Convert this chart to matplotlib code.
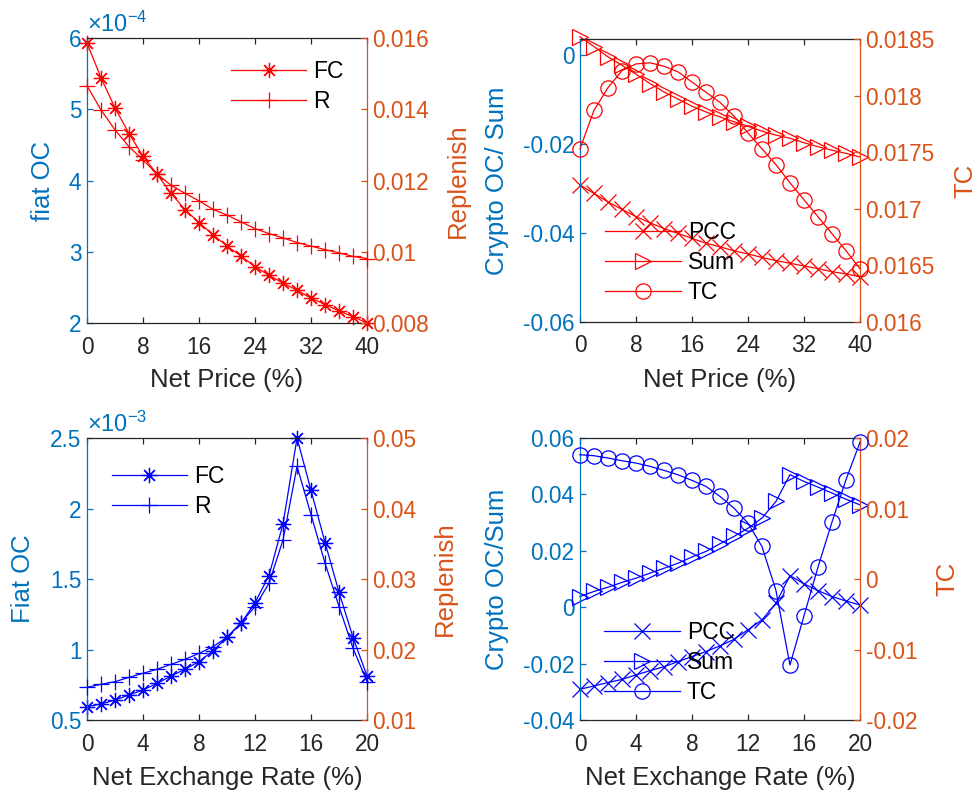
import numpy as np
import matplotlib
matplotlib.use("Agg")
import matplotlib.pyplot as plt
from matplotlib.ticker import FixedLocator, FuncFormatter

plt.rcParams['font.family'] = ['Liberation Sans', 'DejaVu Sans']
plt.rcParams['mathtext.fontset'] = 'custom'
plt.rcParams['mathtext.rm'] = 'Liberation Sans'
plt.rcParams['mathtext.it'] = 'Liberation Sans'
plt.rcParams['axes.unicode_minus'] = False

# ---- data: net price sweep (0..40 %) ----
price = np.arange(0, 41, 2)
fc_price = np.array([5.93, 5.44, 5.02, 4.66, 4.34, 4.09, 3.82, 3.59, 3.41, 3.24, 3.08,
                     2.94, 2.79, 2.67, 2.56, 2.46, 2.35, 2.26, 2.17, 2.09, 2.00]) * 1e-4
r_price = np.array([0.01466, 0.01398, 0.01342, 0.01295, 0.01258, 0.01218, 0.01187,
                    0.01164, 0.01143, 0.01119, 0.01103, 0.01084, 0.01065, 0.01051,
                    0.01039, 0.01026, 0.01016, 0.01006, 0.00997, 0.00987, 0.00981])
pcc_price = np.array([-0.0292, -0.0311, -0.0330, -0.0347, -0.0363, -0.0377, -0.0390,
                      -0.0401, -0.0412, -0.0423, -0.0431, -0.0440, -0.0447, -0.0455,
                      -0.0462, -0.0468, -0.0474, -0.0480, -0.0487, -0.0492, -0.0498])
sum_price = np.array([0.0041, 0.0019, -0.0004, -0.0023, -0.0043, -0.0064, -0.0083,
                      -0.0099, -0.0115, -0.0128, -0.0139, -0.0150, -0.0160, -0.0171,
                      -0.0180, -0.0187, -0.0197, -0.0206, -0.0214, -0.0221, -0.0229])
tc_price = np.array([0.01753, 0.01787, 0.01807, 0.01822, 0.01828, 0.01829, 0.01826,
                     0.01821, 0.01812, 0.01803, 0.01794, 0.01782, 0.01767, 0.01753,
                     0.01739, 0.01723, 0.01708, 0.01693, 0.01678, 0.01663, 0.01647])

# ---- data: net exchange rate sweep (0..20 %) ----
rate = np.arange(0, 21, 1)
fc_rate = np.array([0.595, 0.614, 0.642, 0.678, 0.713, 0.760, 0.812, 0.860, 0.914, 0.992,
                    1.087, 1.186, 1.333, 1.525, 1.892, 2.500, 2.128, 1.759, 1.406, 1.085,
                    0.812]) * 1e-3
r_rate = np.array([0.01464, 0.01507, 0.01544, 0.01606, 0.01663, 0.01720, 0.01790,
                   0.01860, 0.01947, 0.02041, 0.02174, 0.02382, 0.02609, 0.02941,
                   0.03556, 0.04598, 0.03912, 0.03225, 0.02609, 0.02018, 0.01544])
pcc_rate = np.array([-0.0291, -0.0279, -0.0267, -0.0256, -0.0240, -0.0225, -0.0211,
                     -0.0193, -0.0175, -0.0157, -0.0137, -0.0114, -0.0080, -0.0045,
                     0.0014, 0.0112, 0.0083, 0.0059, 0.0038, 0.0022, 0.0008])
sum_rate = np.array([0.0038, 0.0056, 0.0071, 0.0088, 0.0103, 0.0121, 0.0138, 0.0156,
                     0.0178, 0.0198, 0.0225, 0.0251, 0.0280, 0.0316, 0.0375, 0.0470,
                     0.0446, 0.0426, 0.0405, 0.0383, 0.0363])
tc_rate = np.array([0.01763, 0.01749, 0.01716, 0.01678, 0.01645, 0.01598, 0.01541,
                    0.01479, 0.01399, 0.01314, 0.01172, 0.01006, 0.00793, 0.00462,
                    -0.00163, -0.01219, -0.00523, 0.00168, 0.00807, 0.01408, 0.01938])

BLUE = '#0072BD'
ORANGE = '#D95319'
DARK = '#262626'
TICK_FS = 16.3
LABEL_FS = 18.5
LEG_FS = 16.5
LW = 0.9
MS = 11


def fmt_g(scale=1.0):
    return FuncFormatter(lambda v, pos: '%g' % round(v / scale, 6))


def make_axes(fig, rect, xticks, xlim, ylim_l, yticks_l, ylim_r, yticks_r,
              xlabel, ylabel_l, ylabel_r, lab_pos, scale_l=1.0, exp_text=None):
    ax = fig.add_axes(rect)
    ax2 = ax.twinx()
    ax.set_xlim(*xlim)
    ax.set_ylim(*ylim_l)
    ax2.set_ylim(*ylim_r)
    ax.xaxis.set_major_locator(FixedLocator(xticks))
    ax.yaxis.set_major_locator(FixedLocator(yticks_l))
    ax2.yaxis.set_major_locator(FixedLocator(yticks_r))
    ax.xaxis.set_major_formatter(fmt_g())
    ax.yaxis.set_major_formatter(fmt_g(scale_l))
    ax2.yaxis.set_major_formatter(fmt_g())

    for s in ['top', 'bottom']:
        ax.spines[s].set_color(DARK)
    ax.spines['left'].set_color(BLUE)
    ax.spines['right'].set_color(ORANGE)
    for s in ax2.spines.values():
        s.set_visible(False)
    for s in ax.spines.values():
        s.set_linewidth(0.9)

    ax.tick_params(axis='x', direction='in', top=True, colors=DARK,
                   labelsize=TICK_FS, length=4, width=0.9, pad=9)
    ax.tick_params(axis='y', direction='in', colors=BLUE, labelcolor=BLUE,
                   labelsize=TICK_FS, length=4, width=0.9, pad=4)
    ax2.tick_params(axis='y', direction='in', colors=ORANGE, labelcolor=ORANGE,
                    labelsize=TICK_FS, length=4, width=0.9, pad=4)

    ax.set_xlabel(xlabel, fontsize=LABEL_FS, color=DARK, va='center')
    ax.set_ylabel(ylabel_l, fontsize=LABEL_FS, color=BLUE, va='center')
    ax2.set_ylabel(ylabel_r, fontsize=LABEL_FS, color=ORANGE, va='center')
    ax.xaxis.set_label_coords(0.5, lab_pos[0])
    ax.yaxis.set_label_coords(lab_pos[1], 0.5)
    ax2.yaxis.set_label_coords(lab_pos[2], 0.5)

    if exp_text:
        ax.text(0.0, 1.005, exp_text, transform=ax.transAxes, color=BLUE,
                fontsize=17, ha='left', va='bottom')
    ax.set_facecolor('none')
    return ax, ax2


def draw(ax, x, y, color, marker, label):
    line, = ax.plot(x, y, color=color, lw=LW, marker=marker, ms=MS,
                    mfc='none', mec=color, mew=LW, clip_on=False, label=label)
    return line


def add_legend(ax2, handles, anchor):
    ax2.legend(handles=handles, loc='upper left', bbox_to_anchor=anchor,
               frameon=False, fontsize=LEG_FS, numpoints=1, handlelength=3.3,
               handletextpad=0.3, labelspacing=0.3, borderpad=0.4)


fig = plt.figure(figsize=(9.78, 7.98), dpi=100)
ASTER = (8, 2, 0)

# top-left: fiat OC / replenish vs net price
ax, ax2 = make_axes(fig, [0.0890, 0.5952, 0.2863, 0.3571], [0, 8, 16, 24, 32, 40], (0, 40),
                    (2e-4, 6e-4), [2e-4, 3e-4, 4e-4, 5e-4, 6e-4],
                    (0.008, 0.016), [0.008, 0.010, 0.012, 0.014, 0.016],
                    'Net Price (%)', 'fiat OC', 'Replenish', (-0.2, -0.157, 1.325),
                    scale_l=1e-4, exp_text=r'$\times10^{-4}$')
h1 = draw(ax, price, fc_price, 'red', ASTER, 'FC')
h2 = draw(ax2, price, r_price, 'red', '+', 'R')
add_legend(ax2, [h1, h2], (0.44, 0.995))

# top-right: crypto OC / sum / TC vs net price
ax, ax2 = make_axes(fig, [0.5930, 0.5965, 0.2863, 0.3546], [0, 8, 16, 24, 32, 40], (0, 40),
                    (-0.06, 0.0036), [-0.06, -0.04, -0.02, 0],
                    (0.016, 0.0185), [0.016, 0.0165, 0.017, 0.0175, 0.018, 0.0185],
                    'Net Price (%)', 'Crypto OC/ Sum', 'TC', (-0.205, -0.296, 1.375))
h1 = draw(ax, price, pcc_price, 'red', 'x', 'PCC')
h2 = draw(ax, price, sum_price, 'red', '>', 'Sum')
h3 = draw(ax2, price, tc_price, 'red', 'o', 'TC')
add_legend(ax2, [h1, h2, h3], (0.017, 0.43))

# bottom-left: fiat OC / replenish vs net exchange rate
ax, ax2 = make_axes(fig, [0.0890, 0.0977, 0.2863, 0.3534], [0, 4, 8, 12, 16, 20], (0, 20),
                    (0.5e-3, 2.5e-3), [0.5e-3, 1e-3, 1.5e-3, 2e-3, 2.5e-3],
                    (0.01, 0.05), [0.01, 0.02, 0.03, 0.04, 0.05],
                    'Net Exchange Rate (%)', 'Fiat OC', 'Replenish', (-0.206, -0.229, 1.279),
                    scale_l=1e-3, exp_text=r'$\times10^{-3}$')
h1 = draw(ax, rate, fc_rate, 'blue', ASTER, 'FC')
h2 = draw(ax2, rate, r_rate, 'blue', '+', 'R')
add_legend(ax2, [h1, h2], (0.014, 0.978))

# bottom-right: crypto OC / sum / TC vs net exchange rate
ax, ax2 = make_axes(fig, [0.5930, 0.0977, 0.2863, 0.3534], [0, 4, 8, 12, 16, 20], (0, 20),
                    (-0.04, 0.06), [-0.04, -0.02, 0, 0.02, 0.04, 0.06],
                    (-0.02, 0.02), [-0.02, -0.01, 0, 0.01, 0.02],
                    'Net Exchange Rate (%)', 'Crypto OC/Sum', 'TC', (-0.206, -0.296, 1.311))
h1 = draw(ax, rate, pcc_rate, 'blue', 'x', 'PCC')
h2 = draw(ax, rate, sum_rate, 'blue', '>', 'Sum')
h3 = draw(ax2, rate, tc_rate, 'blue', 'o', 'TC')
add_legend(ax2, [h1, h2, h3], (0.014, 0.425))

fig.savefig('out.png', dpi=100)
